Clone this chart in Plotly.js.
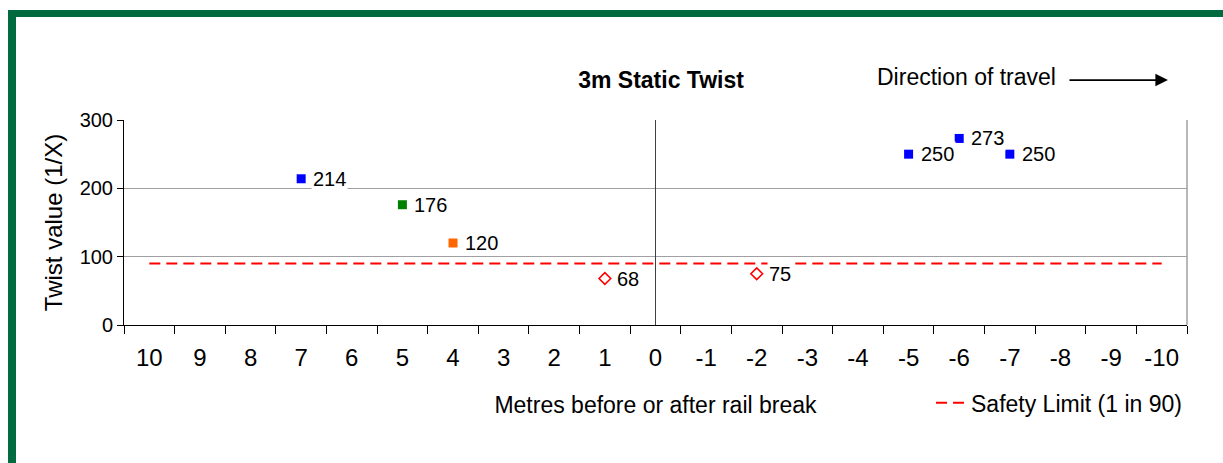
<!DOCTYPE html>
<html>
<head>
<meta charset="utf-8">
<script src="https://cdn.plot.ly/plotly-3.0.1.min.js"></script>
<style>html,body{margin:0;padding:0;background:#fff;}#chart{width:1223px;height:463px;}</style>
</head>
<body>
<div id="chart"></div>
<script>
// ---- data ----
const categories = ['10','9','8','7','6','5','4','3','2','1','0','-1','-2','-3','-4','-5','-6','-7','-8','-9','-10'];
const safetyLimit = [90,90,90,90,90,90,90,90,90,90,90,90,90,90,90,90,90,90,90,90,90];
const blueX = ['7','-5','-6','-7'];
const blueY = [214,250,273,250];
const greenX = ['5'];
const greenY = [176];
const orangeX = ['4'];
const orangeY = [120];
const redX = ['1','-2'];
const redY = [68,75];
const breakX = ['0','0'];
const breakY = [0,300];

const FONT = 'Liberation Sans, Arial, sans-serif';

const traces = [
  {x: breakX, y: breakY, mode: 'lines', line: {color: '#404040', width: 1}, showlegend: false, hoverinfo: 'skip'},
  {x: categories, y: safetyLimit, mode: 'lines', name: 'Safety Limit (1 in 90)',
   line: {color: '#ff0000', width: 2, dash: '11px,6px'}, showlegend: true},
  {x: blueX, y: blueY, mode: 'markers', marker: {symbol: 'square', size: 9, color: '#0000ff'}, showlegend: false},
  {x: greenX, y: greenY, mode: 'markers', marker: {symbol: 'square', size: 9, color: '#008000'}, showlegend: false},
  {x: orangeX, y: orangeY, mode: 'markers', marker: {symbol: 'square', size: 9, color: '#ff6600'}, showlegend: false},
  {x: redX, y: redY, mode: 'markers', marker: {symbol: 'diamond-open', size: 9, color: '#ff0000', line: {width: 1.6, color: '#ff0000'}}, showlegend: false}
];

const labelAnns = [];
[[blueX, blueY], [greenX, greenY], [orangeX, orangeY], [redX, redY]].forEach(([xs, ys]) => {
  xs.forEach((xv, i) => {
    labelAnns.push({x: categories.indexOf(xv), y: ys[i], xref: 'x', yref: 'y', text: String(ys[i]), showarrow: false,
      xanchor: 'left', yanchor: 'middle', xshift: 10, bgcolor: '#ffffff', borderpad: 1,
      font: {family: FONT, size: 20, color: '#000'}});
  });
});

const layout = {
  width: 1223, height: 463,
  margin: {l: 124, r: 36, t: 120, b: 138},
  paper_bgcolor: '#ffffff', plot_bgcolor: '#ffffff',
  font: {family: FONT, color: '#000'},
  title: {text: '<b>3m Static Twist</b>', font: {family: FONT, size: 23, color: '#000'},
          xref: 'container', x: 0.5405, xanchor: 'center', yref: 'container', y: 0.827, yanchor: 'middle'},
  xaxis: {type: 'category', categoryorder: 'array', categoryarray: categories, range: [-0.5, 20.5],
          tickson: 'boundaries', ticks: 'outside', ticklen: 8, tickcolor: '#000', tickwidth: 1,
          ticklabelstandoff: 11,
          showline: true, linecolor: '#000', linewidth: 1, showgrid: false, zeroline: false,
          tickfont: {family: FONT, size: 24, color: '#000'},
          title: {text: 'Metres before or after rail break', font: {family: FONT, size: 23, color: '#000'}, standoff: 27},
          automargin: false, fixedrange: true},
  yaxis: {range: [0, 300], dtick: 100, tick0: 0, ticks: 'outside', ticklen: 6, tickcolor: '#000',
          showline: true, linecolor: '#000', linewidth: 1, showgrid: true, gridcolor: '#a0a0a0', gridwidth: 1,
          zeroline: false, tickfont: {family: FONT, size: 20, color: '#000'},
          title: {text: 'Twist value (1/X)', font: {family: FONT, size: 24, color: '#000'}, standoff: 10},
          automargin: false, fixedrange: true},
  showlegend: true,
  legend: {x: 0.7592, xanchor: 'left', y: -0.38, yanchor: 'middle', orientation: 'h',
           font: {family: FONT, size: 23, color: '#000'}, bgcolor: 'rgba(0,0,0,0)'},
  shapes: [
    {type: 'line', xref: 'paper', yref: 'paper', x0: 1, x1: 1, y0: 0, y1: 1, line: {color: '#a0a0a0', width: 1.5}},
    {type: 'rect', xref: 'paper', yref: 'paper', x0: -0.1091, x1: 1.06, y0: 1.5024, y1: 1.5366, fillcolor: '#006b3f', line: {width: 0}},
    {type: 'rect', xref: 'paper', yref: 'paper', x0: -0.1091, x1: -0.1016, y0: -0.75, y1: 1.5366, fillcolor: '#006b3f', line: {width: 0}}
  ],
  annotations: labelAnns.concat([
    {xref: 'paper', yref: 'paper', x: 0.8786, y: 1.2098, xanchor: 'right', yanchor: 'middle', showarrow: false,
     text: 'Direction of travel', font: {family: FONT, size: 23, color: '#000'}},
    {xref: 'paper', yref: 'paper', x: 0.9821, y: 1.195, axref: 'pixel', ayref: 'pixel', ax: -100, ay: 0,
     showarrow: true, arrowhead: 2, arrowsize: 1.4, arrowwidth: 1.8, arrowcolor: '#000', text: '', standoff: 0}
  ])
};

Plotly.newPlot('chart', traces, layout, {displayModeBar: false, staticPlot: true});
</script>
</body>
</html>
